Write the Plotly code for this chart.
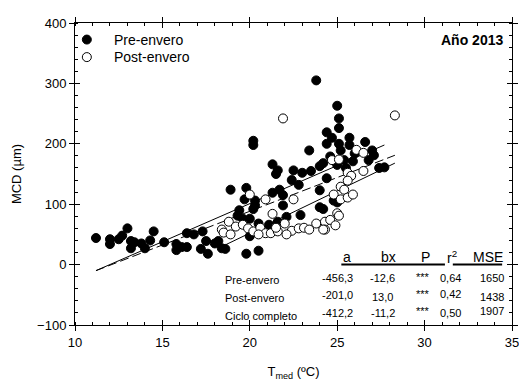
import plotly.graph_objects as go

# ---------------- data (T_med in ºC, MCD in µm) ----------------
pre_T = [11.2, 12.0, 12.0, 12.5, 12.7, 13.0, 13.2, 13.2, 13.4, 13.8, 14.0, 14.3, 14.5,
         15.1, 15.8, 15.8, 16.1, 16.4, 16.4, 16.8, 17.3, 17.5, 17.2, 17.6, 18.0, 18.2,
         18.4, 18.6,
         18.9, 19.8, 19.7, 20.3, 20.2, 20.2, 21.3, 21.6, 21.5, 22.5, 23.0, 22.4, 22.8,
         21.3, 21.7, 21.9, 20.3, 20.2, 19.4, 19.3, 19.6, 21.9, 22.1, 22.9, 20.0, 20.5,
         21.1, 21.6, 20.0, 19.8, 20.5, 23.4,
         23.8, 25.0, 25.1, 25.1, 24.4, 24.7, 24.4, 25.1, 25.7, 25.7, 26.6, 25.2, 26.0,
         27.0, 27.1, 24.6, 25.4, 25.9, 24.2, 24.0, 25.0, 25.5, 27.4, 27.7, 26.8, 23.5,
         24.0, 24.4, 24.0, 24.2, 24.8, 25.0]
pre_MCD = [44, 42, 34, 42, 48, 60, 39, 27, 37, 35, 27, 40, 55,
           37, 34, 24, 29, 29, 52, 50, 55, 39, 26, 18, 35, 39,
           27, 26,
           124, 127, 108, 106, 205, 198, 166, 156, 150, 156, 152, 140, 132,
           119, 124, 115, 98, 92, 90, 81, 76, 98, 79, 82, 76, 68,
           66, 71, 47, 18, 23, 189,
           305, 263, 242, 226, 219, 210, 200, 200, 210, 198, 203, 189, 184,
           189, 181, 179, 173, 171, 168, 163, 165, 160, 160, 161, 173, 155,
           123, 143, 95, 92, 106, 103]

post_T = [21.9, 28.3, 20.0, 20.9, 22.5, 21.3, 18.4, 18.5, 18.8, 18.9, 19.2, 19.6, 19.9,
          20.2, 20.6, 20.9, 21.2, 21.6, 22.0, 22.4, 22.8, 23.1, 20.5, 21.5, 22.1,
          26.1, 26.5, 24.7, 25.1, 26.5, 25.6, 25.8, 25.6, 25.2, 25.4, 24.8, 25.2, 25.6,
          25.9, 25.0, 25.1, 23.8, 24.3, 24.6, 24.3, 24.9, 23.4, 24.2]
post_MCD = [242, 247, 116, 108, 108, 84, 58, 53, 71, 50, 63, 66, 60,
            55, 61, 52, 52, 55, 68, 56, 60, 61, 50, 61, 50,
            190, 185, 173, 174, 155, 152, 147, 139, 129, 124, 116, 108, 111,
            116, 85, 81, 68, 71, 74, 58, 65, 58, 58]

# fitted lines (end points)
fit_pre_T, fit_pre_MCD = [11.2, 27.7], [-10, 198]
fit_post_T, fit_post_MCD = [18.2, 28.3], [27, 168]
fit_all_T, fit_all_MCD = [11.2, 28.3], [-10, 181]

# table
tab_header = ["a", "bx", "P", "r<sup>2</sup>", "MSE"]
tab_rows = ["Pre-envero", "Post-envero", "Ciclo completo"]
tab_vals = [["-456,3", "-12,6", "***", "0,64", "1650"],
            ["-201,0", "13,0", "***", "0,42", "1438"],
            ["-412,2", "-11,2", "***", "0,50", "1907"]]

x_ticks = [10, 15, 20, 25, 30, 35]
y_ticks = [-100, 0, 100, 200, 300, 400]

# ---------------- layout helpers ----------------
# the page body has an 8px margin, so the figure sits at (8, 8) in the window
OFF = 8
W, H = 519, 377
L, R, T, B = 64, 12, 8, 59
PL, PT = OFF + L, OFF + T           # plot-area left / top in window pixels
PW, PH = W - L - R, H - T - B


def px(x):
    return (x - PL) / PW


def py(y):
    return (PT + PH - y) / PH


FONT = "Liberation Sans, Arial, sans-serif"

fig = go.Figure()

fig.add_trace(go.Scatter(x=fit_pre_T, y=fit_pre_MCD, mode="lines",
                         line=dict(color="black", width=1), showlegend=False))
fig.add_trace(go.Scatter(x=fit_all_T, y=fit_all_MCD, mode="lines",
                         line=dict(color="black", width=1, dash="9px,4px"), showlegend=False))
fig.add_trace(go.Scatter(x=fit_post_T, y=fit_post_MCD, mode="lines",
                         line=dict(color="black", width=1), showlegend=False))

fig.add_trace(go.Scatter(x=pre_T, y=pre_MCD, mode="markers", name="Pre-envero",
                         marker=dict(symbol="circle", size=9, color="black",
                                     line=dict(color="black", width=1)),
                         showlegend=False))
fig.add_trace(go.Scatter(x=post_T, y=post_MCD, mode="markers", name="Post-envero",
                         marker=dict(symbol="circle", size=9, color="white",
                                     line=dict(color="black", width=1)),
                         showlegend=False))

axis_common = dict(showline=True, linecolor="black", linewidth=1, mirror="ticks",
                   showgrid=False, zeroline=False, ticks="outside", ticklen=5,
                   tickcolor="black", tickwidth=1,
                   tickfont=dict(family=FONT, size=13, color="black"))

fig.update_layout(
    width=W, height=H,
    margin=dict(l=L, r=R, t=T, b=B),
    plot_bgcolor="white", paper_bgcolor="white",
    showlegend=False,
    xaxis=dict(range=[10, 35], tickvals=x_ticks,
               minor=dict(dtick=1, ticks="inside", ticklen=3, tickcolor="black"),
               title=dict(text="T<sub>med</sub> (ºC)", font=dict(family=FONT, size=13, color="black"),
                          standoff=18),
               **axis_common),
    yaxis=dict(range=[-100, 400], tickvals=y_ticks,
               minor=dict(dtick=20, ticks="inside", ticklen=3, tickcolor="black"),
               title=dict(text="MCD (µm)", font=dict(family=FONT, size=13, color="black"),
                          standoff=12),
               **axis_common),
    xaxis2=dict(range=[10, 35], overlaying="x", tickvals=x_ticks, ticks="inside", ticklen=5,
                tickcolor="black", showticklabels=False, showline=False, showgrid=False,
                zeroline=False, mirror="ticks", matches="x"),
    yaxis2=dict(range=[-100, 400], overlaying="y", tickvals=y_ticks, ticks="inside", ticklen=5,
                tickcolor="black", showticklabels=False, showline=False, showgrid=False,
                zeroline=False, mirror="ticks", matches="y"),
)
# dummy trace to activate the overlay axes
fig.add_trace(go.Scatter(x=[None], y=[None], xaxis="x2", yaxis="y2", showlegend=False))

shapes = []
annotations = []

# legend (manual)
for (label, fill, ycen) in [("Pre-envero", "black", 33), ("Post-envero", "white", 51)]:
    shapes.append(dict(type="circle", xref="paper", yref="paper", xsizemode="pixel",
                       ysizemode="pixel", xanchor=px(84), yanchor=py(ycen),
                       x0=-4.5, x1=4.5, y0=-4.5, y1=4.5,
                       fillcolor=fill, line=dict(color="black", width=1)))
    annotations.append(dict(text=label, xref="paper", yref="paper", x=px(110), y=py(ycen),
                            xanchor="left", yanchor="middle", showarrow=False,
                            font=dict(family=FONT, size=14, color="black")))

annotations.append(dict(text="<b>Año 2013</b>", xref="paper", yref="paper", x=px(508), y=py(33),
                        xanchor="right", yanchor="middle", showarrow=False,
                        font=dict(family=FONT, size=14, color="black")))

# table
head_x = [348, 390, 427, 454, 491]
for h, x in zip(tab_header, head_x):
    annotations.append(dict(text=h, xref="paper", yref="paper", x=px(x), y=py(256),
                            xanchor="center", yanchor="middle", showarrow=False,
                            font=dict(family=FONT, size=14, color="black")))
for x0, x1 in [(342, 447), (455, 505)]:
    shapes.append(dict(type="line", xref="paper", yref="paper", x0=px(x0), x1=px(x1),
                       y0=py(264), y1=py(264), line=dict(color="black", width=2)))

label_y = [280, 298, 317]
val_y = [[278, 278, 277, 278, 278], [295, 297, 294, 294, 297], [314, 314, 312, 314, 312]]
val_x = [338, 384, 425, 453, 495]
for i, lab in enumerate(tab_rows):
    annotations.append(dict(text=lab, xref="paper", yref="paper", x=px(222), y=py(label_y[i]),
                            xanchor="left", yanchor="middle", showarrow=False,
                            font=dict(family=FONT, size=11, color="black")))
    for j, v in enumerate(tab_vals[i]):
        annotations.append(dict(text=v, xref="paper", yref="paper", x=px(val_x[j]),
                                y=py(val_y[i][j]), xanchor="center", yanchor="middle",
                                showarrow=False,
                                font=dict(family=FONT, size=11, color="black")))

fig.update_layout(shapes=shapes, annotations=annotations)
fig.write_html("out.html")
